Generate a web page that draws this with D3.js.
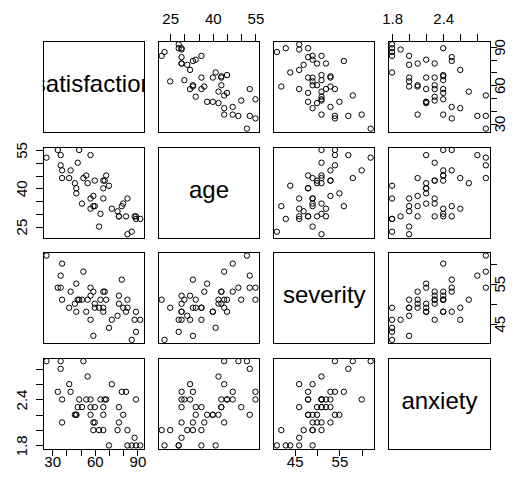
<!DOCTYPE html>
<html>
<head>
<meta charset="utf-8">
<script src="https://cdn.jsdelivr.net/npm/d3@7"></script>
<style>
  body { margin: 0; background: #fff; }
  svg { font-family: 'Liberation Sans', Arial, sans-serif; }
  .box { fill: none; stroke: #000; stroke-width: 1; shape-rendering: crispEdges; }
  .pt { fill: none; stroke: #000; stroke-width: 1; }
  .axis path, .axis line { stroke: #000; shape-rendering: crispEdges; }
  .axis text { font-size: 15px; fill: #000; }
</style>
</head>
<body>
<svg width="529" height="481"></svg>
<script>
const varNames = ['satisfaction', 'age', 'severity', 'anxiety']

const satisfaction = [48, 57, 66, 70, 89, 36, 46, 54, 26, 77, 89, 67, 47, 51, 57, 66, 79, 88, 60, 49, 77, 52, 60, 86,
  43, 34, 63, 72, 57, 55, 59, 83, 76, 47, 36, 80, 82, 64, 37, 42, 66, 83, 37, 68, 59, 92]
const age = [50, 36, 40, 41, 28, 49, 42, 45, 52, 29, 29, 43, 38, 34, 53, 36, 33, 29, 33, 55, 29, 44, 43, 23,
  47, 55, 25, 32, 32, 42, 33, 36, 31, 40, 53, 34, 29, 30, 47, 44, 43, 22, 44, 45, 37, 28]
const severity = [51, 46, 48, 44, 43, 54, 50, 48, 62, 50, 48, 53, 55, 51, 54, 49, 56, 46, 49, 51, 52, 58, 50, 41,
  53, 54, 49, 46, 52, 51, 42, 49, 47, 48, 57, 49, 48, 51, 60, 49, 53, 51, 51, 51, 53, 46]
const anxiety = [2.3, 2.3, 2.2, 1.8, 1.8, 2.9, 2.2, 2.4, 2.9, 2.1, 2.4, 2.4, 2.2, 2.3, 2.2, 2.0, 2.5, 1.9, 2.1, 2.4,
  2.3, 2.9, 2.3, 1.8, 2.5, 2.5, 2.0, 2.6, 2.4, 2.7, 2.0, 1.8, 2.0, 2.2, 2.8, 2.2, 2.5, 2.4, 2.4, 2.6, 2.3, 2.0,
  2.1, 2.4, 2.1, 1.8]

const columns = [satisfaction, age, severity, anxiety]

const tickValues = [
  [30, 40, 50, 60, 70, 80, 90],
  [25, 30, 35, 40, 45, 50, 55],
  [45, 50, 55, 60],
  [1.8, 2.0, 2.2, 2.4, 2.6, 2.8]
]
const tickLabels = [
  [30, 60, 90],
  [25, 40, 55],
  [45, 55],
  [1.8, 2.4]
]

const marginLeft = 42.7
const marginTop = 41
const panelW = 101.3
const panelH = 91
const stepX = 115.2
const stepY = 105.6
const tickLen = 7

const svg = d3.select('svg')

// R style "r" axis extension: 4% on each side
function rDomain (v) {
  const [lo, hi] = d3.extent(v)
  const ext = (hi - lo) * 0.04
  return [lo - ext, hi + ext]
}

const xScales = columns.map(v => d3.scaleLinear().domain(rDomain(v)).range([0, panelW]))
const yScales = columns.map(v => d3.scaleLinear().domain(rDomain(v)).range([panelH, 0]))

function labelFormat (k) {
  const shown = tickLabels[k].map(d => d.toFixed(2))
  const fmt = k === 3 ? d3.format('.1f') : d3.format('d')
  return d => shown.includes(d.toFixed(2)) ? fmt(d) : ''
}

const defs = svg.append('defs')

for (let i = 0; i < 4; i++) {
  for (let j = 0; j < 4; j++) {
    const x0 = marginLeft + j * stepX
    const y0 = marginTop + i * stepY
    const g = svg.append('g').attr('transform', `translate(${x0},${y0})`)

    if (i === j) {
      defs.append('clipPath').attr('id', `clip-${i}`)
        .append('rect').attr('width', panelW).attr('height', panelH)
      g.append('text')
        .attr('clip-path', `url(#clip-${i})`)
        .attr('x', panelW / 2 + 0.5).attr('y', panelH / 2 + 5.5)
        .attr('text-anchor', 'middle')
        .style('font-size', '24px')
        .text(varNames[i])
    } else {
      const xs = xScales[j]
      const ys = yScales[i]
      g.selectAll('circle')
        .data(d3.range(columns[0].length))
        .join('circle')
        .attr('class', 'pt')
        .attr('cx', k => xs(columns[j][k]))
        .attr('cy', k => ys(columns[i][k]))
        .attr('r', 2.7)
    }

    // axes on alternating sides like pairs()
    if (i === 0 && j % 2 === 1) {
      const ax = g.append('g').attr('class', 'axis')
        .call(d3.axisTop(xScales[j]).tickValues(tickValues[j]).tickFormat(labelFormat(j))
          .tickSize(tickLen).tickSizeOuter(0).tickPadding(10))
      ax.select('.domain').remove()
      ax.selectAll('text').attr('dy', 0)
    }
    if (i === 3 && j % 2 === 0) {
      const ax = g.append('g').attr('class', 'axis').attr('transform', `translate(0,${panelH})`)
        .call(d3.axisBottom(xScales[j]).tickValues(tickValues[j]).tickFormat(labelFormat(j))
          .tickSize(tickLen).tickSizeOuter(0))
      ax.select('.domain').remove()
      ax.selectAll('text').attr('y', 0).attr('dy', 0).attr('transform', 'translate(0,18.5)')
    }
    if (j === 0 && i % 2 === 1) {
      const ax = g.append('g').attr('class', 'axis')
        .call(d3.axisLeft(yScales[i]).tickValues(tickValues[i]).tickFormat(labelFormat(i))
          .tickSize(tickLen).tickSizeOuter(0))
      ax.select('.domain').remove()
      ax.selectAll('text').attr('x', 0).attr('dy', 0)
        .attr('text-anchor', 'middle')
        .attr('transform', 'translate(-16,0) rotate(-90)')
    }
    if (j === 3 && i % 2 === 0) {
      const ax = g.append('g').attr('class', 'axis').attr('transform', `translate(${panelW},0)`)
        .call(d3.axisRight(yScales[i]).tickValues(tickValues[i]).tickFormat(labelFormat(i))
          .tickSize(tickLen).tickSizeOuter(0))
      ax.select('.domain').remove()
      ax.selectAll('text').attr('x', 0).attr('dy', 0)
        .attr('text-anchor', 'middle')
        .attr('transform', 'translate(15,0) rotate(-90)')
    }

    g.append('rect').attr('class', 'box')
      .attr('x', 0.5).attr('y', 0.5)
      .attr('width', panelW).attr('height', panelH)
  }
}
</script>
</body>
</html>
